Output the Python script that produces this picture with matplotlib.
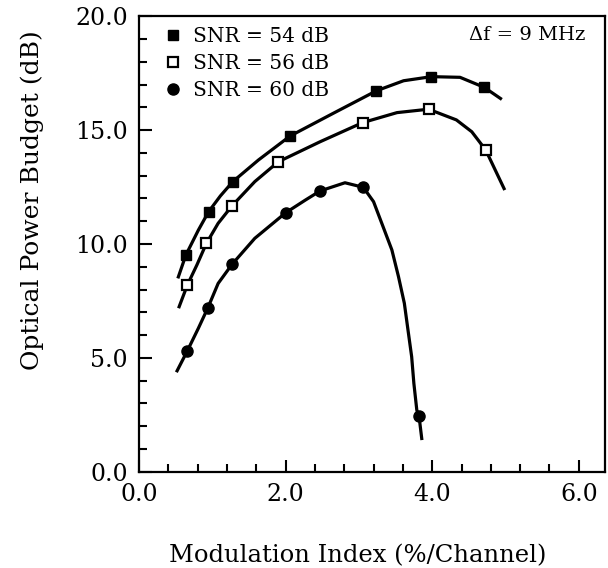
import matplotlib
matplotlib.use("Agg")
import matplotlib.pyplot as plt
from matplotlib.ticker import MultipleLocator, FormatStrFormatter
from matplotlib.lines import Line2D

# measured points (markers)
x54 = [0.64, 0.95, 1.28, 2.06, 3.24, 3.99, 4.71]
y54 = [9.52, 11.42, 12.74, 14.74, 16.73, 17.35, 16.88]
x56 = [0.66, 0.92, 1.27, 1.90, 3.05, 3.95, 4.73]
y56 = [8.20, 10.03, 11.68, 13.61, 15.33, 15.92, 14.13]
x60 = [0.66, 0.94, 1.27, 2.00, 2.47, 3.06, 3.82]
y60 = [5.31, 7.20, 9.11, 11.37, 12.33, 12.49, 2.45]

# fitted curves
cx54 = [0.53, 0.64, 0.81, 0.95, 1.11, 1.28, 1.63, 2.06, 2.65, 3.24, 3.61, 3.99, 4.38, 4.71, 4.95]
cy54 = [8.49, 9.52, 10.61, 11.42, 12.11, 12.74, 13.69, 14.74, 15.74, 16.73, 17.17, 17.35, 17.32, 16.88, 16.35]
cx56 = [0.54, 0.66, 0.79, 0.92, 1.08, 1.27, 1.58, 1.90, 2.47, 3.05, 3.52, 3.95, 4.33, 4.54, 4.73, 4.99]
cy56 = [7.18, 8.20, 9.08, 10.03, 10.91, 11.68, 12.74, 13.61, 14.49, 15.33, 15.77, 15.92, 15.45, 14.93, 14.13, 12.37]
cx60 = [0.51, 0.66, 0.81, 0.94, 1.08, 1.27, 1.58, 2.00, 2.27, 2.47, 2.81, 3.06, 3.20, 3.33, 3.45,
        3.54, 3.62, 3.67, 3.72, 3.75, 3.79, 3.82, 3.86]
cy60 = [4.37, 5.31, 6.30, 7.20, 8.27, 9.11, 10.25, 11.37, 11.93, 12.33, 12.69, 12.49, 11.86, 10.76, 9.74,
        8.57, 7.40, 6.22, 5.05, 3.88, 2.71, 2.45, 1.39]

labels = ["SNR = 54 dB", "SNR = 56 dB", "SNR = 60 dB"]

plt.rcParams['font.family'] = ['DejaVu Serif']

fig = plt.figure(figsize=(6.08, 5.68), dpi=100)
ax = fig.add_axes([0.2286, 0.1695, 0.7664, 0.8018])

lw = 2.3
for cx, cy in [(cx54, cy54), (cx56, cy56), (cx60, cy60)]:
    ax.plot(cx, cy, color='black', lw=lw, solid_joinstyle='round', solid_capstyle='butt')

ax.plot(x54, y54, ls='none', marker='s', ms=7.5, mfc='black', mec='black')
ax.plot(x56, y56, ls='none', marker='s', ms=6.5, mfc='white', mec='black', mew=1.6)
ax.plot(x60, y60, ls='none', marker='o', ms=8, mfc='black', mec='black')

ax.set_xlim(0, 6.357)
ax.set_ylim(0, 20)
ax.xaxis.set_major_locator(MultipleLocator(2))
ax.xaxis.set_minor_locator(MultipleLocator(0.4))
ax.yaxis.set_major_locator(MultipleLocator(5))
ax.yaxis.set_minor_locator(MultipleLocator(1))
ax.xaxis.set_major_formatter(FormatStrFormatter('%.1f'))
ax.yaxis.set_major_formatter(FormatStrFormatter('%.1f'))
ax.tick_params(which='both', direction='in', width=1.5, labelsize=17, pad=8)
ax.tick_params(which='major', length=9)
ax.tick_params(which='minor', length=6)
for s in ax.spines.values():
    s.set_linewidth(1.6)

handles = [
    Line2D([], [], ls='none', marker='s', ms=7.5, mfc='black', mec='black'),
    Line2D([], [], ls='none', marker='s', ms=6.5, mfc='white', mec='black', mew=1.6),
    Line2D([], [], ls='none', marker='o', ms=8, mfc='black', mec='black'),
]
ax.legend(handles, labels, loc='upper left', bbox_to_anchor=(0.035, 0.995), frameon=False,
          fontsize=14.5, handlelength=1.0, handletextpad=0.45, labelspacing=0.4, borderaxespad=0)

ax.text(0.957, 0.960, "\u0394f = 9 MHz", transform=ax.transAxes, ha='right', va='center', fontsize=14)

fig.text(358 / 608, 1 - 562 / 568, "Modulation Index (%/Channel)", ha='center', va='baseline', fontsize=17.5)
fig.text(32 / 608, 1 - 200 / 568, "Optical Power Budget (dB)", ha='center', va='center', rotation=90, fontsize=18)

fig.savefig("out.png", dpi=100)
